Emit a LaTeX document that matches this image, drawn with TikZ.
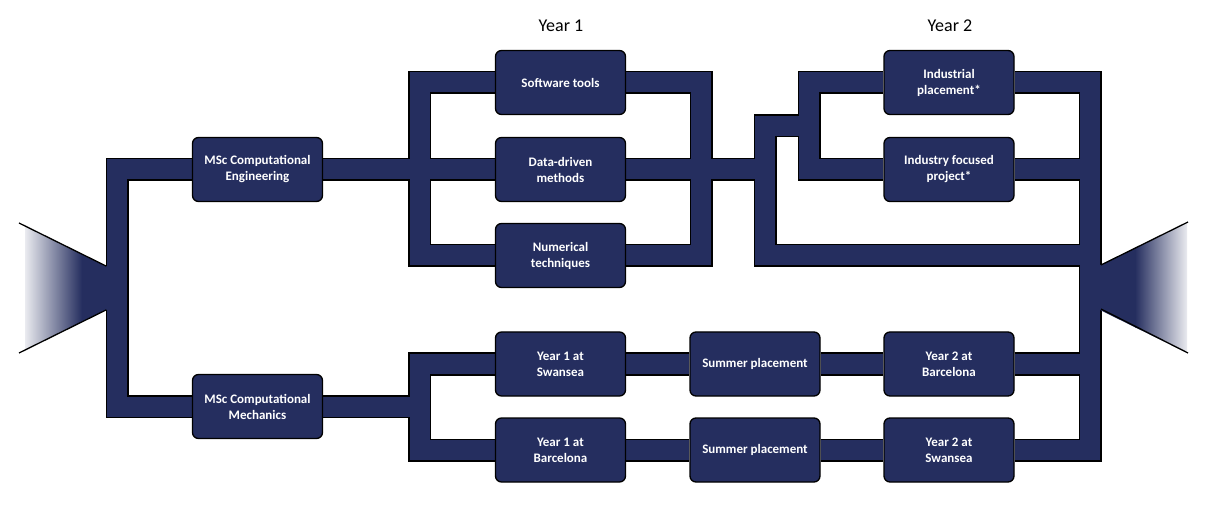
\documentclass[tikz,border=0pt]{standalone}
\usepackage{fontspec}
\setmainfont{Carlito}
\definecolor{navy}{RGB}{37,46,95}
\pgfdeclarelayer{bg}
\pgfsetlayers{bg,main}
\newcommand\pipenet[1]{%
  \draw[#1] (CE) -- (a1) -- (a2) -- (CM);
  \draw[#1] (CE) -- (DD);
  \draw[#1] (SW) -- (b1) -- (b2) -- (NT);
  \draw[#1] (SW) -- (c1) -- (c2) -- (NT);
  \draw[#1] (DD) -- (d0);
  \draw[#1] (d3) -- (d1) -- (d2) -- (f3);
  \draw[#1] (IP) -- (e1) -- (e2) -- (IF);
  \draw[#1] (IP) -- (f1) -- (f5) -- (Y2S);
  \draw[#1] (IF) -- (f2);
  \draw[#1] (CM) -- (g0);
  \draw[#1] (Y1S) -- (g1) -- (g2) -- (Y1B);
  \draw[#1] (Y1S) -- (SP1) -- (Y2B) -- (f4);
  \draw[#1] (Y1B) -- (SP2) -- (Y2S);
}
\begin{document}
\begin{tikzpicture}[x=1pt,y=-1pt,
  box/.style={draw=black, line width=1.3pt, fill=navy, rounded corners=6pt,
    minimum width=130pt, minimum height=64pt, inner sep=2pt, text=white,
    align=center, font=\bfseries\fontsize{13}{16}\selectfont},
  title/.style={font=\fontsize{18}{22}\selectfont, anchor=base},
  pipeout/.style={line width=23pt, draw=black},
  pipein/.style={line width=20pt, draw=navy},
  edge/.style={line width=1.3pt, draw=black}
]
\useasboundingbox (0,0) rectangle (1205,521);
\begin{pgfonlayer}{bg}
  \fill[white] (0,0) rectangle (1205,521);
\end{pgfonlayer}

% titles
\node[title] (t1) at (561,32) {Year 1};
\node[title] (t2) at (950,32) {Year 2};

% boxes
\node[box] (CE)  at (257.5,169.5) {MSc Computational\\Engineering};
\node[box] (CM)  at (257.5,406.5) {MSc Computational\\Mechanics};
\node[box] (SW)  at (560.5,82.5)  {Software tools};
\node[box] (DD)  at (560.5,169.5) {Data-driven\\methods};
\node[box] (NT)  at (560.5,255.5) {Numerical\\techniques};
\node[box] (IP)  at (949,82.5)    {Industrial\\placement*};
\node[box] (IF)  at (949,169.5)   {Industry focused\\project*};
\node[box] (Y1S) at (560.5,364)   {Year 1 at\\Swansea};
\node[box] (Y1B) at (560.5,450)   {Year 1 at\\Barcelona};
\node[box] (SP1) at (755,364)     {Summer placement};
\node[box] (SP2) at (755,450)     {Summer placement};
\node[box] (Y2B) at (949,364)     {Year 2 at\\Barcelona};
\node[box] (Y2S) at (949,450)     {Year 2 at\\Swansea};

% junction points
\coordinate (a1) at (117,169.5);
\coordinate (a2) at (117,406.5);
\coordinate (b1) at (419.5,82.5);
\coordinate (b2) at (419.5,255.5);
\coordinate (c1) at (701,82.5);
\coordinate (c2) at (701,255.5);
\coordinate (d0) at (765,169.5);
\coordinate (d1) at (765,126);
\coordinate (d2) at (765,255.5);
\coordinate (d3) at (809,126);
\coordinate (e1) at (809,82.5);
\coordinate (e2) at (809,169.5);
\coordinate (f1) at (1090,82.5);
\coordinate (f2) at (1090,169.5);
\coordinate (f3) at (1090,255.5);
\coordinate (f4) at (1090,364);
\coordinate (f5) at (1090,450);
\coordinate (g0) at (419.5,406.5);
\coordinate (g1) at (419.5,364);
\coordinate (g2) at (419.5,450);

\begin{pgfonlayer}{bg}
  \pipenet{pipeout}
  \pipenet{pipein}
\end{pgfonlayer}

% left funnel
\begin{scope}
  \clip (25,226) -- (108,267) -- (108,309) -- (25,350) -- cycle;
  \fill[navy] (20,200) rectangle (110,380);
  \shade[left color=navy!8, right color=navy] (24,200) rectangle (82,380);
\end{scope}
\draw[edge] (19,223) -- (106,266);
\draw[edge] (19,353) -- (106,310);

% right funnel
\begin{scope}
  \clip (1099,265.5) -- (1187,223) -- (1187,353) -- (1099,309.5) -- cycle;
  \fill[navy] (1095,200) rectangle (1136,380);
  \shade[left color=navy, right color=navy!8] (1135,200) rectangle (1188,380);
\end{scope}
\draw[edge] (1101,265) -- (1188,222);
\draw[edge] (1101,309) -- (1188,353);
\end{tikzpicture}
\end{document}
